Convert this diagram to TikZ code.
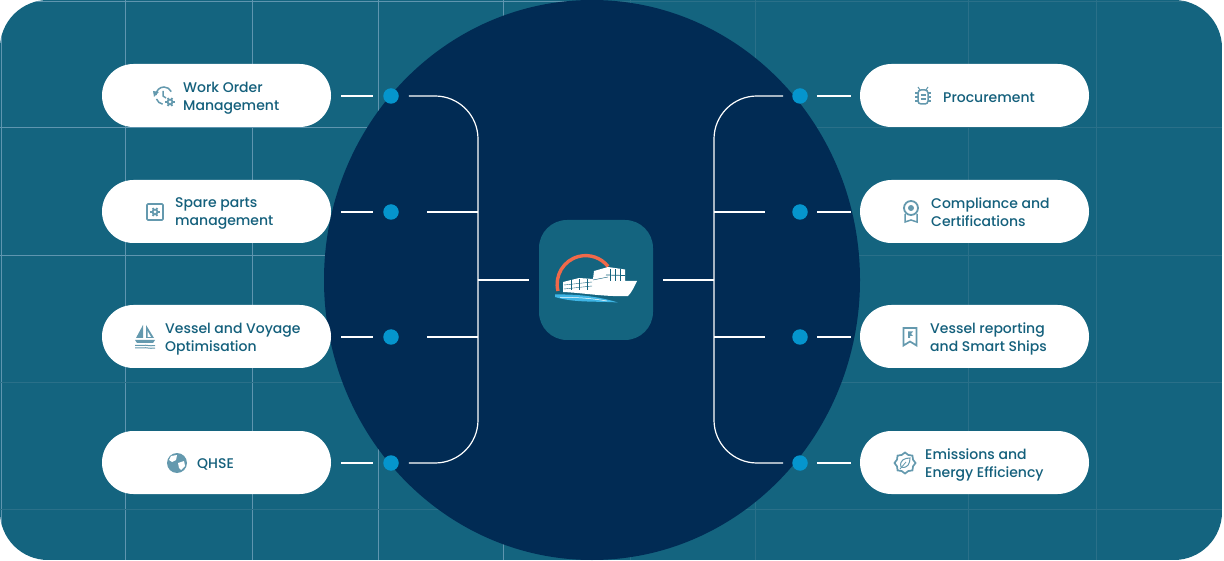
\documentclass[tikz,border=0pt]{standalone}
\usepackage{fontspec}
\setmainfont{Poppins Medium}
\usetikzlibrary{positioning, shapes.geometric, calc}

\definecolor{paneltone}{HTML}{14647F}
\definecolor{seatone}{HTML}{012B54}
\definecolor{gridtone}{HTML}{5F95AF}
\definecolor{gridfaint}{HTML}{2A7089}
\definecolor{dottone}{HTML}{0595CD}
\definecolor{labeltone}{HTML}{14607C}
\definecolor{icontone}{HTML}{6499AE}
\definecolor{arctone}{HTML}{F0694A}
\definecolor{wavetone}{HTML}{3FB6E6}

\tikzset{
    pill/.style={fill=white, rounded corners=31.5pt, minimum width=229pt, minimum height=63pt, inner sep=0},
    pilltext/.style={anchor=west, align=left, inner sep=0, text=labeltone, font=\fontsize{14}{18}\selectfont,
        execute at begin node=\strut, execute at end node=\strut},
    joint/.style={circle, fill=dottone, minimum size=15.5pt, inner sep=0},
    link/.style={white, line width=1.2pt},
    stroke/.style={icontone, line width=1.5pt},
    cog/.pic={
        \foreach \a in {0,60,...,300} {\draw[icontone, line width=1.7pt] (\a:2.5) -- (\a:4.6);}
        \fill[icontone] (0,0) circle (3.4);
        \fill[white] (0,0) circle (1.5);
    },
    historyicon/.pic={
        \draw[stroke] (-8,-1) arc[start angle=180, end angle=335, radius=8];
        \draw[stroke] (-7.5,3) arc[start angle=160, end angle=100, radius=8];
        \fill[icontone] (-11,-5) -- (-5,-4) -- (-10,1) -- cycle;
        \draw[stroke] (-1,-5) -- (-1,0) -- (2,2);
        \pic at (6,6) {cog};
    },
    safeicon/.pic={
        \draw[stroke, line width=1.7pt, rounded corners=1pt] (-8,-8) rectangle (8,8);
        \pic at (0,0) {cog};
    },
    boaticon/.pic={
        \fill[icontone] (-2,-12) -- (-2,1) -- (-9,1) -- cycle;
        \fill[icontone] (1,-12) -- (9,1) -- (1,1) -- cycle;
        \fill[white] (2.5,-6) -- (6,0) -- (2.5,0) -- cycle;
        \fill[icontone] (-10,3) -- (10,3) -- (8,6) -- (-8,6) -- cycle;
        \foreach \y in {8.5,11} {\draw[stroke, line width=1pt] (-10,\y) .. controls (-7,\y-1) and (-5,\y+1) .. (-2,\y) .. controls (1,\y-1) and (4,\y+1) .. (10,\y);}
    },
    globeicon/.pic={
        \fill[icontone] (0,0) circle (10);
        \fill[white] (-6,-7) -- (0,-8) -- (-1,-3) -- (-5,-1) -- (-8,-3) -- cycle;
        \fill[white] (1,0) -- (7,-2) -- (8,3) -- (4,7) -- (2,5) -- cycle;
    },
    bugicon/.pic={
        \draw[stroke, rounded corners=3pt] (-5,-6) rectangle (5,8);
        \draw[stroke, line width=1pt] (-3,-6) -- (-5,-9);
        \draw[stroke, line width=1pt] (3,-6) -- (5,-9);
        \foreach \y in {-3,1,5} {
            \draw[stroke, line width=1.2pt] (-8,\y) -- (-5,\y);
            \draw[stroke, line width=1.2pt] (5,\y) -- (8,\y);
        }
        \draw[stroke, line width=1.2pt] (-2.5,-1) -- (2.5,-1);
        \draw[stroke, line width=1.2pt] (-2.5,3) -- (2.5,3);
    },
    medalicon/.pic={
        \draw[stroke, line width=1.8pt] (0,-4) circle (7);
        \fill[icontone] (0,-4) circle (3);
        \draw[stroke] (-6,2) -- (-6,10) -- (0,8) -- (6,10) -- (6,2);
    },
    bookmarkicon/.pic={
        \draw[stroke, line width=1.7pt, line join=miter] (-6.5,-9) -- (6.5,-9) -- (6.5,8.5) -- (0,4.5) -- (-6.5,8.5) -- cycle;
        \fill[icontone] (-2,-5.5) -- (3,-5.5) -- (1,-3) -- (3,-1) -- (0,-1) -- (0,1) -- (-2,1) -- cycle;
    },
    leaficon/.pic={
        \draw[stroke, line width=1.7pt] (0:10.5) -- (22.5:8.7) -- (45:10.5) -- (67.5:8.7) -- (90:10.5) -- (112.5:8.7)
            -- (135:10.5) -- (157.5:8.7) -- (180:10.5) -- (202.5:8.7) -- (225:10.5) -- (247.5:8.7)
            -- (270:10.5) -- (292.5:8.7) -- (315:10.5) -- (337.5:8.7) -- cycle;
        \draw[stroke, line width=1pt] (-4,4) .. controls (-6,-3) and (0,-5) .. (5,-5) .. controls (5,0) and (3,6) .. (-4,4);
        \draw[stroke, line width=.8pt] (-5,6) -- (1,-1);
    }
}

\begin{document}
\begin{tikzpicture}[x=1pt, y=-1pt]
\useasboundingbox (0,0) rectangle (1224,561);

% Panel with grid
\begin{scope}
\clip[rounded corners=48pt] (0,0) rectangle (1222,560);
\fill[paneltone] (0,0) rectangle (1222,560);
\foreach \x in {1,125,252,378,503} {\draw[gridtone, line width=.8pt] (\x,0) -- (\x,560);}
\foreach \x in {630,755,968,1096} {\draw[gridfaint, line width=.8pt] (\x,0) -- (\x,560);}
\foreach \y in {1,127,255} {
    \draw[gridtone, line width=.8pt] (0,\y) -- (600,\y);
    \draw[gridfaint, line width=.8pt] (600,\y) -- (1222,\y);
}
\foreach \y in {382,509} {\draw[gridfaint, line width=.9pt] (0,\y) -- (1222,\y);}
\end{scope}

% Dark disc in the middle
\node[ellipse, fill=seatone, minimum width=536pt, minimum height=560pt, inner sep=0] (disc) at (592,280) {};

% Hub with the ship
\node[fill=paneltone, rounded corners=28pt, minimum width=114pt, minimum height=120pt, inner sep=0] (hub) at (596,280) {};
\draw[arctone, line width=3.4pt] (558,291) arc[start angle=166, end angle=322, radius=28.5];
\fill[white] (563,292) -- (563,282) -- (579,278) -- (593,279) -- (594,271) -- (608,267) -- (625,269.5) -- (625,281) -- (637,281)
    .. controls (634,287) and (632,292) .. (628,296) .. controls (605,297) and (585,293) .. (563,292) -- cycle;
\foreach \y in {285,289} {\draw[paneltone, line width=.4pt] (564,\y) -- (592,\y-3);}
\draw[paneltone, line width=.4pt] (593,280) -- (608,277);
\foreach \x in {571,579,587} {\draw[paneltone, line width=.4pt] (\x,279) -- (\x,290);}
\foreach \x in {610,615,620} {\draw[paneltone, line width=.7pt] (\x,269) -- (\x,281);}
\draw[paneltone, line width=.7pt] (606,275) -- (625,275.5);
\fill[wavetone] (555,294.5) .. controls (580,294) and (600,297) .. (618,302.5) .. controls (595,301) and (575,303) .. (555,297) -- cycle;
\draw[white, line width=.5pt] (560,297.5) .. controls (580,297) and (595,299) .. (607,301);

% Left column
\foreach \i/\yy/\ix/\tx/\ty/\icon/\txt in {
    1/96/164/183/98.7/historyicon/{Work Order\\Management},
    2/212/155/175/214.7/safeicon/{Spare parts\\management},
    3/337/145/165/339.7/boaticon/{Vessel and Voyage\\Optimisation},
    4/463/177/197/464.7/globeicon/{QHSE}} {
    \node[pill] (left\i) at (216.5,\yy-.5) {};
    \node[pilltext] (left\i-text) at (\tx,\ty) {\txt};
    \pic at (\ix,\yy) {\icon};
    \node[joint] (leftdot\i) at (391,\yy) {};
    \draw[link, shorten <=10pt, shorten >=10pt] (left\i.east |- leftdot\i) -- (leftdot\i.west);
}

% Right column
\foreach \i/\yy/\ix/\tx/\ty/\icon/\txt in {
    1/96/923/943/98.7/bugicon/{Procurement},
    2/212/911/931/214.7/medalicon/{Compliance and\\Certifications},
    3/337/910/930/339.7/bookmarkicon/{Vessel reporting\\and Smart Ships},
    4/463/905/925/465.7/leaficon/{Emissions and\\Energy Efficiency}} {
    \node[pill] (right\i) at (974.5,\yy-.5) {};
    \node[pilltext] (right\i-text) at (\tx,\ty) {\txt};
    \pic at (\ix,\yy) {\icon};
    \node[joint] (rightdot\i) at (800,\yy) {};
    \draw[link, shorten <=9pt, shorten >=9pt] (rightdot\i.east) -- (right\i.west |- rightdot\i);
}

% Buses
\coordinate (busleft) at (478,280);
\coordinate (busright) at (714,280);

\draw[link, rounded corners=43pt, shorten <=10pt] (leftdot1.east) -- (busleft |- leftdot1) -- (busleft);
\draw[link, rounded corners=43pt, shorten <=10pt] (leftdot4.east) -- (busleft |- leftdot4) -- (busleft);
\draw[link, shorten <=28pt] (leftdot2.east) -- (busleft |- leftdot2);
\draw[link, shorten <=28pt] (leftdot3.east) -- (busleft |- leftdot3);
\draw[link, shorten >=10pt] (busleft) -- (hub.west);

\draw[link, rounded corners=43pt, shorten <=9pt] (rightdot1.west) -- (busright |- rightdot1) -- (busright);
\draw[link, rounded corners=43pt, shorten <=9pt] (rightdot4.west) -- (busright |- rightdot4) -- (busright);
\draw[link, shorten <=27pt] (rightdot2.west) -- (busright |- rightdot2);
\draw[link, shorten <=27pt] (rightdot3.west) -- (busright |- rightdot3);
\draw[link, shorten >=10pt] (busright) -- (hub.east);

\end{tikzpicture}
\end{document}
